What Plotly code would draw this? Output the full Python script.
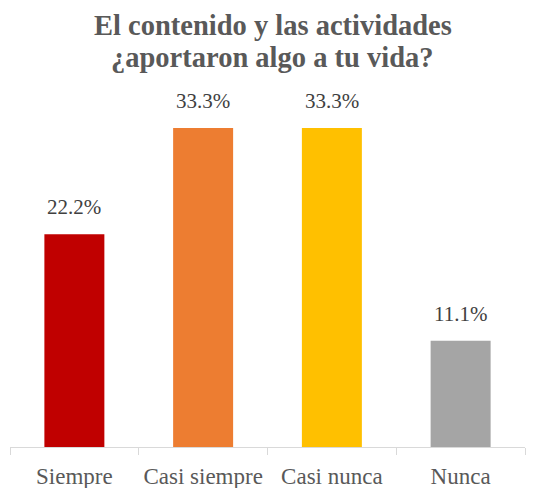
import plotly.graph_objects as go

# ── Data ─────────────────────────────────────────────────────────────────────
categories = ["Siempre", "Casi siempre", "Casi nunca", "Nunca"]
values = [22.2, 33.3, 33.3, 11.1]
bar_colors = ["#C00000", "#ED7D31", "#FFC000", "#A5A5A5"]
title_lines = ["El contenido y las actividades", "¿aportaron algo a tu vida?"]

SERIF = "'Liberation Serif', 'Times New Roman', Times, serif"

fig = go.Figure(go.Bar(
    x=categories, y=values,
    marker=dict(color=bar_colors, line_width=0),
    width=0.466,
    hoverinfo="skip",
))

# data labels above the bars
for cat, v in zip(categories, values):
    fig.add_annotation(
        x=cat, y=v, text=f"{v:.1f}%", showarrow=False,
        yanchor="bottom", yshift=13,
        font=dict(family=SERIF, size=21, color="#404040"),
    )

# two-line title, kept as separate annotations for tighter line spacing
for line, ypos in zip(title_lines, [1.182, 1.092]):
    fig.add_annotation(
        text=f"<b>{line}</b>", xref="paper", yref="paper",
        x=0.5, y=ypos, xanchor="center", yanchor="middle", showarrow=False,
        xshift=5,
        font=dict(family=SERIF, size=28.5, color="#595959"),
    )

fig.update_layout(
    width=534, height=488,
    paper_bgcolor="white", plot_bgcolor="white",
    font=dict(family=SERIF),
    margin=dict(t=90, b=41, l=10, r=9, autoexpand=False),
    showlegend=False,
    xaxis=dict(
        showline=True, linecolor="#D9D9D9", linewidth=1,
        ticks="outside", tickson="boundaries", ticklen=7, tickcolor="#D9D9D9",
        tickfont=dict(family=SERIF, size=23, color="#595959"),
        ticklabelstandoff=8,
        showgrid=False, automargin=False,
    ),
    yaxis=dict(range=[0, 37.27], visible=False, showgrid=False),
)

# drop the browser's default body margin so the figure sits at the page corner
fig.write_html("out.html", config={"displayModeBar": False},
               post_script="document.body.style.margin='0';")
